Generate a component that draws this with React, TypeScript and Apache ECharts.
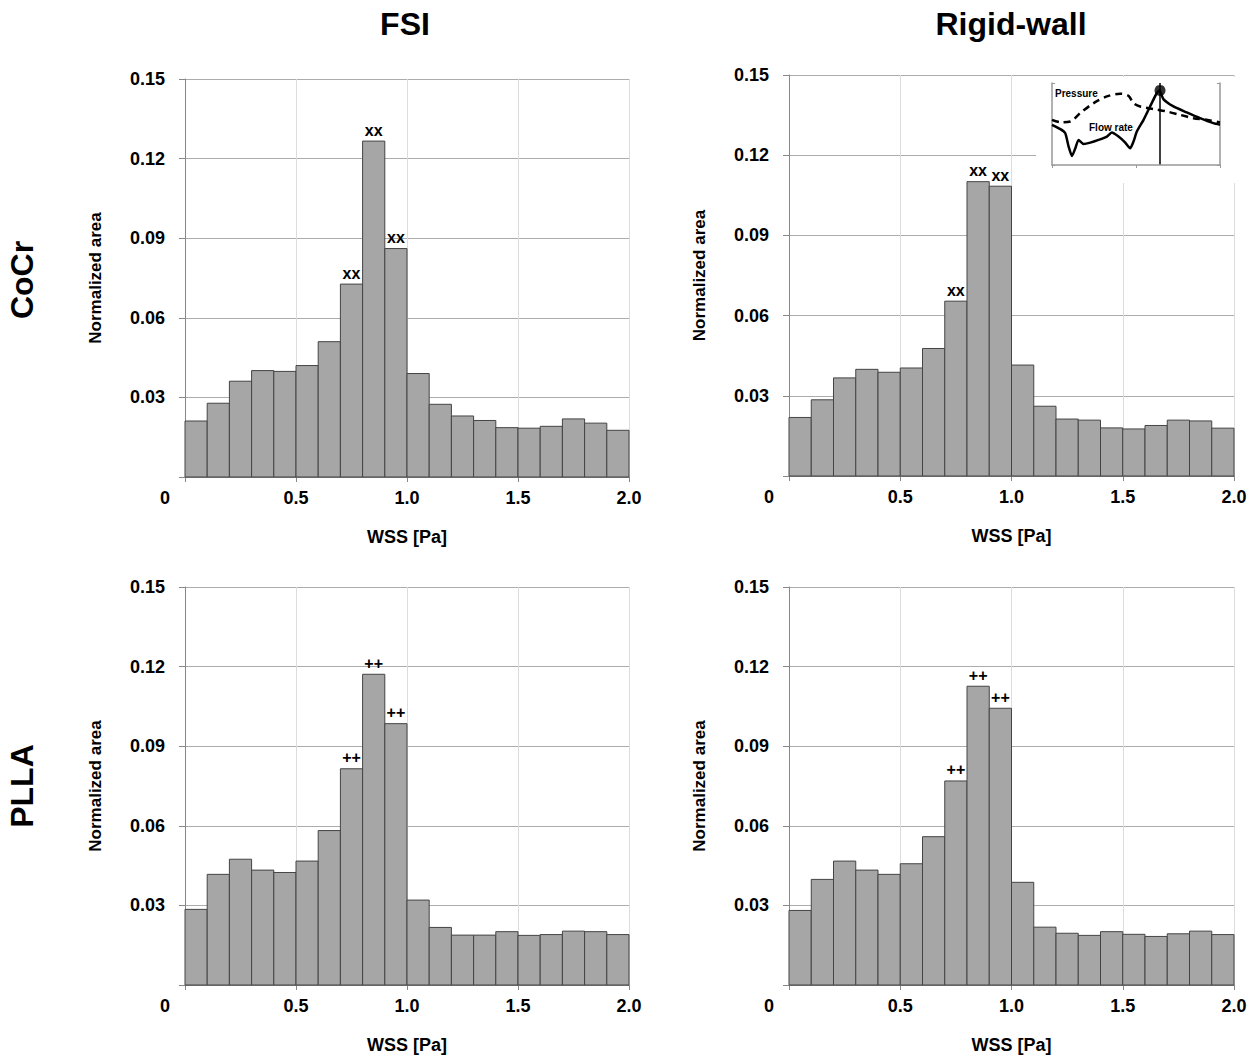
import React, { useEffect, useRef } from "react";
import * as echarts from "echarts";

// ---------- data ----------
const binEdges = [0, 0.1, 0.2, 0.3, 0.4, 0.5, 0.6, 0.7, 0.8, 0.9, 1.0, 1.1, 1.2, 1.3, 1.4, 1.5, 1.6, 1.7, 1.8, 1.9, 2.0];

const fsiCoCr = [0.0211, 0.0278, 0.0361, 0.0401, 0.0398, 0.0420, 0.0510, 0.0727, 0.1266, 0.0861, 0.0390, 0.0274, 0.0230, 0.0213, 0.0186, 0.0184, 0.0191, 0.0219, 0.0203, 0.0176];
const rigidCoCr = [0.0219, 0.0285, 0.0367, 0.0399, 0.0388, 0.0404, 0.0477, 0.0654, 0.1101, 0.1084, 0.0415, 0.0261, 0.0213, 0.0209, 0.0180, 0.0176, 0.0189, 0.0209, 0.0206, 0.0179];
const fsiPLLA = [0.0285, 0.0417, 0.0474, 0.0433, 0.0424, 0.0467, 0.0582, 0.0815, 0.1171, 0.0985, 0.0320, 0.0217, 0.0188, 0.0188, 0.0201, 0.0187, 0.0190, 0.0203, 0.0201, 0.0190];
const rigidPLLA = [0.0281, 0.0398, 0.0467, 0.0433, 0.0417, 0.0457, 0.0559, 0.0769, 0.1126, 0.1043, 0.0387, 0.0218, 0.0195, 0.0187, 0.0201, 0.0191, 0.0183, 0.0193, 0.0203, 0.0190];

const markedBins = [7, 8, 9];
const cocrMark = "xx";
const pllaMark = "++";

const columnTitles = ["FSI", "Rigid-wall"];
const rowTitles = ["CoCr", "PLLA"];
const yTicks = [0, 0.03, 0.06, 0.09, 0.12, 0.15];
const xTicks = [0, 0.5, 1.0, 1.5, 2.0];

// inset waveform (normalized cardiac cycle)
const pressureT = [0, 0.05, 0.109, 0.168, 0.248, 0.327, 0.406, 0.455, 0.485, 0.525, 0.604, 0.683, 0.762, 0.842, 0.921, 1];
const pressureV = [0.551, 0.522, 0.531, 0.633, 0.755, 0.837, 0.869, 0.845, 0.755, 0.714, 0.682, 0.653, 0.612, 0.571, 0.551, 0.518];
const flowT = [0, 0.05, 0.079, 0.099, 0.119, 0.139, 0.158, 0.188, 0.228, 0.277, 0.327, 0.356, 0.396, 0.436, 0.465, 0.485, 0.505, 0.545, 0.584, 0.624, 0.64, 0.663, 0.723, 0.802, 0.881, 0.96, 1];
const flowV = [0.49, 0.437, 0.388, 0.224, 0.11, 0.204, 0.306, 0.257, 0.273, 0.306, 0.347, 0.396, 0.347, 0.273, 0.204, 0.286, 0.408, 0.551, 0.714, 0.878, 0.91, 0.804, 0.714, 0.641, 0.571, 0.51, 0.49];
const peakT = 0.643;
const peakV = 0.91;

const FONT = "'Liberation Sans', Arial, Helvetica, sans-serif";

const panels = [
  { values: fsiCoCr, mark: cocrMark, grid: { left: 185, top: 79, width: 444, height: 398 } },
  { values: rigidCoCr, mark: cocrMark, grid: { left: 789, top: 75, width: 445, height: 401 } },
  { values: fsiPLLA, mark: pllaMark, grid: { left: 185, top: 587, width: 444, height: 398 } },
  { values: rigidPLLA, mark: pllaMark, grid: { left: 789, top: 587, width: 445, height: 398 } },
];

const AXIS_COLOR = "#888888";

function buildOption() {
  const grids: any[] = panels.map((p) => ({ ...p.grid, containLabel: false }));
  grids.push({ left: 1052, top: 83, width: 168, height: 82 });

  const xAxes: any[] = panels.map((_, i) => ({
    type: "value",
    gridIndex: i,
    min: xTicks[0],
    max: xTicks[xTicks.length - 1],
    interval: xTicks[1] - xTicks[0],
    name: "WSS [Pa]",
    nameLocation: "middle",
    nameGap: 51,
    nameTextStyle: { fontFamily: FONT, fontWeight: "bold", fontSize: 18, color: "#000" },
    axisLine: { show: true, lineStyle: { color: AXIS_COLOR, width: 1 } },
    axisTick: { show: true, length: 5, lineStyle: { color: AXIS_COLOR } },
    splitLine: { show: true, lineStyle: { color: "#dcdcdc", width: 1 } },
    axisLabel: {
      margin: 12,
      fontFamily: FONT,
      fontWeight: "bold",
      fontSize: 18,
      color: "#000",
      formatter: (v: number) => (v === 0 ? "{z|0}" : v.toFixed(1)),
      rich: { z: { fontFamily: FONT, fontWeight: "bold", fontSize: 18, color: "#000", padding: [0, 40, 0, 0] } },
    },
  }));
  xAxes.push({
    type: "value",
    gridIndex: 4,
    min: 0,
    max: 1,
    interval: 0.5,
    z: 5,
    axisLine: { show: true, lineStyle: { color: "#999", width: 1.5 } },
    axisTick: { show: true, length: 3, lineStyle: { color: "#999" } },
    axisLabel: { show: false },
    splitLine: { show: false },
  });

  const yAxes: any[] = panels.map((_, i) => ({
    type: "value",
    gridIndex: i,
    min: yTicks[0],
    max: yTicks[yTicks.length - 1],
    interval: yTicks[1] - yTicks[0],
    name: "Normalized area",
    nameLocation: "middle",
    nameGap: 81,
    nameTextStyle: { fontFamily: FONT, fontWeight: "bold", fontSize: 17, color: "#000" },
    axisLine: { show: true, lineStyle: { color: AXIS_COLOR, width: 1 } },
    axisTick: { show: true, length: 6, lineStyle: { color: AXIS_COLOR } },
    splitLine: { show: true, lineStyle: { color: "#acacac", width: 1 } },
    axisLabel: {
      margin: 20,
      fontFamily: FONT,
      fontWeight: "bold",
      fontSize: 18,
      color: "#000",
      formatter: (v: number) => (v === 0 ? "" : v.toFixed(2)),
    },
  }));
  ["left", "right"].forEach((pos) => {
    yAxes.push({
      type: "value",
      gridIndex: 4,
      position: pos,
      min: 0,
      max: 1,
      interval: 1,
      z: 5,
      axisLine: { show: true, lineStyle: { color: "#999", width: 1.5 } },
      axisTick: { show: true, inside: true, length: 3, lineStyle: { color: "#999" } },
      axisLabel: { show: false },
      splitLine: { show: false },
    });
  });

  const series: any[] = panels.map((p, i) => ({
    type: "custom",
    xAxisIndex: i,
    yAxisIndex: i,
    z: 3,
    data: p.values.map((v, k) => [binEdges[k], binEdges[k + 1], v]),
    renderItem: (params: any, api: any) => {
      const x0 = api.value(0);
      const x1 = api.value(1);
      const v = api.value(2);
      const pTop = api.coord([x0, v]);
      const pBot = api.coord([x1, 0]);
      const children: any[] = [
        {
          type: "rect",
          shape: { x: pTop[0], y: pTop[1], width: pBot[0] - pTop[0], height: pBot[1] - pTop[1] },
          style: { fill: "#a6a6a6", stroke: "#444444", lineWidth: 1 },
        },
      ];
      if (markedBins.indexOf(params.dataIndex) >= 0) {
        children.push({
          type: "text",
          style: {
            text: p.mark,
            x: (pTop[0] + pBot[0]) / 2,
            y: pTop[1] - 3,
            align: "center",
            verticalAlign: "bottom",
            fontFamily: FONT,
            fontWeight: "bold",
            fontSize: 16,
            fill: "#000",
          },
        });
      }
      return { type: "group", children };
    },
  }));

  series.push({
    type: "line",
    xAxisIndex: 4,
    yAxisIndex: 4,
    z: 6,
    symbol: "none",
    smooth: 0.3,
    data: pressureT.map((t, k) => [t, pressureV[k]]),
    lineStyle: { color: "#000", width: 2.5, type: [7, 5] },
  });
  series.push({
    type: "line",
    xAxisIndex: 4,
    yAxisIndex: 4,
    z: 6,
    symbol: "none",
    smooth: 0.2,
    data: flowT.map((t, k) => [t, flowV[k]]),
    lineStyle: { color: "#000", width: 2.5 },
    markLine: {
      silent: true,
      symbol: "none",
      label: { show: false },
      lineStyle: { color: "#000", width: 1.5, type: "solid" },
      data: [{ xAxis: peakT }],
    },
  });
  series.push({
    type: "scatter",
    xAxisIndex: 4,
    yAxisIndex: 4,
    z: 7,
    symbolSize: 11,
    itemStyle: { color: "#000" },
    data: [[peakT, peakV]],
  });

  const graphic: any[] = [
    { type: "rect", z: 1, shape: { x: 1036, y: 77, width: 199, height: 106 }, style: { fill: "#fff" } },
    {
      type: "text", z: 8, x: 1055, y: 93,
      style: { text: "Pressure", fontFamily: FONT, fontWeight: "bold", fontSize: 10, fill: "#000", verticalAlign: "middle" },
    },
    {
      type: "text", z: 8, x: 1089, y: 127,
      style: { text: "Flow rate", fontFamily: FONT, fontWeight: "bold", fontSize: 10, fill: "#000", verticalAlign: "middle" },
    },
    {
      type: "text", x: 405, y: 24,
      style: { text: columnTitles[0], fontFamily: FONT, fontWeight: "bold", fontSize: 32, fill: "#000", align: "center", verticalAlign: "middle" },
    },
    {
      type: "text", x: 1011, y: 24,
      style: { text: columnTitles[1], fontFamily: FONT, fontWeight: "bold", fontSize: 32, fill: "#000", align: "center", verticalAlign: "middle" },
    },
    {
      type: "text", x: 22, y: 280, rotation: Math.PI / 2,
      style: { text: rowTitles[0], fontFamily: FONT, fontWeight: "bold", fontSize: 32, fill: "#000", align: "center", verticalAlign: "middle" },
    },
    {
      type: "text", x: 22, y: 786, rotation: Math.PI / 2,
      style: { text: rowTitles[1], fontFamily: FONT, fontWeight: "bold", fontSize: 32, fill: "#000", align: "center", verticalAlign: "middle" },
    },
  ];

  return {
    animation: false,
    backgroundColor: "#ffffff",
    grid: grids,
    xAxis: xAxes,
    yAxis: yAxes,
    series,
    graphic,
  };
}

export default function App() {
  const ref = useRef<HTMLDivElement>(null);
  useEffect(() => {
    document.body.style.margin = "0";
    if (!ref.current) return;
    const chart = echarts.init(ref.current, null, { renderer: "svg" });
    chart.setOption(buildOption() as any);
    return () => chart.dispose();
  }, []);
  return <div ref={ref} style={{ width: 1258, height: 1059 }} />;
}
